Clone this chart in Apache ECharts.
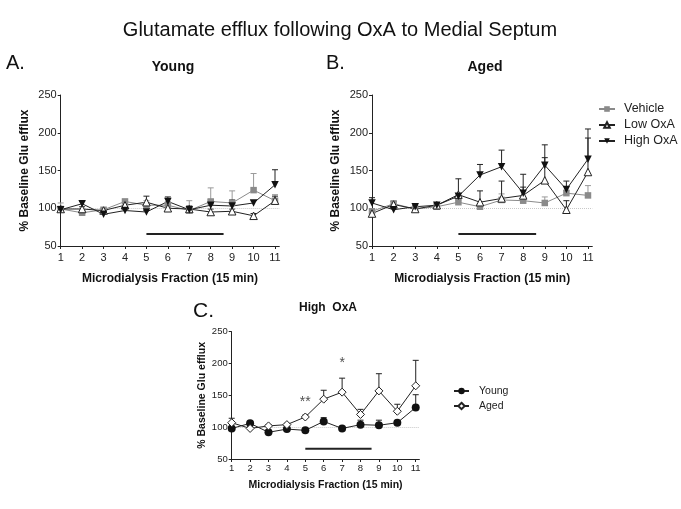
<!DOCTYPE html>
<html><head><meta charset="utf-8">
<script src="https://cdn.jsdelivr.net/npm/echarts@6/dist/echarts.min.js"></script>
<style>html,body{margin:0;padding:0;background:#fff}#c{width:681px;height:509px}</style>
</head><body><div id="c"></div>
<script>
// ---------- data ----------
const fractions = [1, 2, 3, 4, 5, 6, 7, 8, 9, 10, 11];
const yTicks = [50, 100, 150, 200, 250];

// Panel A: Young
const youngVehicleMean = [99, 94, 98, 109, 104, 104, 97, 109, 107, 124, 110];
const youngVehicleSem  = [8, 3, 2, 3, 6, 5, 13, 18, 16, 22, 8];
const youngLowMean     = [99, 99, 97, 104, 108, 100, 99, 95, 96, 90, 110];
const youngLowSem      = [3, 3, 2, 3, 8, 4, 4, 4, 3, 3, 6];
const youngHighMean    = [98, 106, 92, 97, 95, 109, 98, 104, 103, 107, 131];
const youngHighSem     = [3, 3, 2, 2, 2, 6, 3, 7, 8, 3, 20];

// Panel B: Aged
const agedVehicleMean = [96, 106, 99, 102, 108, 102, 111, 110, 107, 120, 117];
const agedVehicleSem  = [3, 4, 2, 3, 3, 3, 8, 5, 8, 4, 13];
const agedLowMean     = [93, 105, 99, 104, 118, 108, 113, 117, 137, 98, 148];
const agedLowSem      = [5, 4, 2, 3, 21, 15, 23, 28, 30, 12, 45];
const agedHighMean    = [107, 98, 102, 104, 116, 144, 155, 120, 157, 125, 165];
const agedHighSem     = [7, 3, 2, 2, 3, 14, 22, 8, 27, 11, 40];

// Treatment period bar (fraction start, end, level)
const treatmentBar = [5, 8.6];
const treatmentLevel = 66;
const baseline = 100;

// Significance marks in panel C
const sigFractions = [5, 7];
const sigLevels = [140, 200];
const sigTexts = ['**', '*'];

// ---------- build ----------
const FONT = 'Liberation Sans, Arial, Helvetica, sans-serif';
const chart = echarts.init(document.getElementById('c'), null, {renderer: 'canvas'});

const grids = [
  {left: 60.7, top: 95, width: 218.6, height: 151},
  {left: 372, top: 95, width: 220.3, height: 151},
  {left: 231.7, top: 331.7, width: 187.7, height: 127.3}
];

function xAxis(i, small) {
  return {
    type: 'value', gridIndex: i, min: 1, max: 11.2,
    name: 'Microdialysis Fraction (15 min)', nameLocation: 'middle',
    nameGap: small ? 21 : 27,
    nameTextStyle: {fontFamily: FONT, fontWeight: 'bold', fontSize: small ? 10.5 : 12, color: '#111'},
    axisLine: {lineStyle: {color: '#222', width: 1}},
    axisTick: {show: true, length: 3, lineStyle: {color: '#222'}, customValues: fractions},
    axisLabel: {customValues: fractions, fontFamily: FONT, fontSize: small ? 9.5 : 11, color: '#222', margin: small ? 4 : 6},
    splitLine: {show: false}
  };
}
function yAxis(i, small) {
  return {
    type: 'value', gridIndex: i, min: 50, max: 250, interval: 50,
    name: '% Baseline Glu efflux', nameLocation: 'middle',
    nameGap: small ? 24 : 30,
    nameTextStyle: {fontFamily: FONT, fontWeight: 'bold', fontSize: small ? 10.5 : 12, color: '#111'},
    axisLine: {show: true, lineStyle: {color: '#222', width: 1}},
    axisTick: {show: true, length: 3, lineStyle: {color: '#222'}},
    axisLabel: {fontFamily: FONT, fontSize: small ? 9.5 : 11, color: '#222', margin: 4},
    splitLine: {show: false}
  };
}

function pairs(means) { return fractions.map((f, k) => [f, means[k]]); }

function lineSeries(name, gi, means, sym, opts) {
  return {
    type: 'line', name: name, xAxisIndex: gi, yAxisIndex: gi,
    data: pairs(means), symbol: sym, symbolSize: opts.size || 7,
    symbolRotate: opts.rotate || 0, symbolKeepAspect: true,
    lineStyle: {color: opts.line, width: 1},
    itemStyle: {color: opts.fill, borderColor: opts.border, borderWidth: opts.bw || 0, opacity: 1},
    z: 5, animation: false, emphasis: {disabled: true}
  };
}

function errSeries(gi, means, sems, color) {
  return {
    type: 'custom', xAxisIndex: gi, yAxisIndex: gi, silent: true, z: 3, animation: false,
    data: fractions.map((f, k) => [f, means[k], sems[k]]),
    encode: {x: 0, y: 1},
    renderItem: function (params, api) {
      const x = api.value(0), m = api.value(1), s = api.value(2);
      const p0 = api.coord([x, m]), p1 = api.coord([x, m + s]);
      return {type: 'group', children: [
        {type: 'line', shape: {x1: p0[0], y1: p0[1], x2: p1[0], y2: p1[1]}, style: {stroke: color, lineWidth: 1}},
        {type: 'line', shape: {x1: p1[0] - 3, y1: p1[1], x2: p1[0] + 3, y2: p1[1]}, style: {stroke: color, lineWidth: 1}}
      ]};
    }
  };
}

function barSeries(gi) {
  return {
    type: 'line', xAxisIndex: gi, yAxisIndex: gi, silent: true, symbol: 'none', animation: false,
    data: [[treatmentBar[0], treatmentLevel], [treatmentBar[1], treatmentLevel]],
    lineStyle: {color: '#222', width: 2}, z: 2,
    markLine: {silent: true, symbol: 'none', label: {show: false}, animation: false,
      lineStyle: {color: '#c8c8c8', type: 'dotted', width: 1},
      data: [{yAxis: baseline}]}
  };
}

const GRAY = '#8a8a8a';
const series = [];
[[0, youngVehicleMean, youngVehicleSem, youngLowMean, youngLowSem, youngHighMean, youngHighSem],
 [1, agedVehicleMean, agedVehicleSem, agedLowMean, agedLowSem, agedHighMean, agedHighSem]].forEach(p => {
  const gi = p[0];
  series.push(barSeries(gi));
  series.push(errSeries(gi, p[1], p[2], '#9a9a9a'));
  series.push(errSeries(gi, p[3], p[4], '#222'));
  series.push(errSeries(gi, p[5], p[6], '#222'));
  series.push(lineSeries('Vehicle', gi, p[1], 'rect', {size: 6.5, line: GRAY, fill: GRAY, border: GRAY}));
  series.push(lineSeries('Low OxA', gi, p[3], 'triangle', {size: 7.5, line: '#222', fill: '#fff', border: '#222', bw: 1}));
  series.push(lineSeries('High OxA', gi, p[5], 'triangle', {size: 7.5, rotate: 180, line: '#222', fill: '#111', border: '#111'}));
});
// Panel C
series.push(barSeries(2));
series.push(errSeries(2, youngHighMean, youngHighSem, '#222'));
series.push(errSeries(2, agedHighMean, agedHighSem, '#222'));
series.push(lineSeries('Young', 2, youngHighMean, 'circle', {size: 8, line: '#222', fill: '#111', border: '#111'}));
series.push(lineSeries('Aged', 2, agedHighMean, 'diamond', {size: 8, line: '#222', fill: '#fff', border: '#222', bw: 1}));
series.push({
  type: 'scatter', xAxisIndex: 2, yAxisIndex: 2, symbolSize: 0, silent: true, animation: false,
  data: sigFractions.map((f, k) => ({value: [f, sigLevels[k]], name: sigTexts[k]})),
  label: {show: true, position: 'inside', formatter: p => p.name, fontFamily: FONT, fontSize: 14, color: '#222'}
});

function txt(x, y, text, font, align) {
  return {type: 'text', x: x, y: y, silent: true,
    style: {text: text, font: font, fill: '#111', align: align || 'center', verticalAlign: 'middle',
            textAlign: align || 'center', textVerticalAlign: 'middle'}};
}

chart.setOption({
  backgroundColor: '#fff',
  animation: false,
  grid: grids,
  xAxis: [xAxis(0), xAxis(1), xAxis(2, true)],
  yAxis: [yAxis(0), yAxis(1), yAxis(2, true)],
  legend: [
    {data: ['Vehicle', 'Low OxA', 'High OxA'], orient: 'vertical', left: 593, top: 97,
     itemWidth: 16, itemHeight: 7, itemGap: 2, selectedMode: false,
     textStyle: {fontFamily: FONT, fontSize: 12.5, color: '#222', padding: [0, 0, 0, 4], lineHeight: 14}},
    {data: ['Young', 'Aged'], orient: 'vertical', left: 448, top: 380,
     itemWidth: 15, itemHeight: 8, itemGap: 3, selectedMode: false,
     textStyle: {fontFamily: FONT, fontSize: 10.5, color: '#222', padding: [0, 0, 0, 5], lineHeight: 12}}
  ],
  graphic: [
    txt(340, 30, 'Glutamate efflux following OxA to Medial Septum', '20px ' + FONT),
    txt(6, 63, 'A.', '20px ' + FONT, 'left'),
    txt(326, 63, 'B.', '20px ' + FONT, 'left'),
    txt(193, 311, 'C.', '21px ' + FONT, 'left'),
    txt(173, 67, 'Young', 'bold 14px ' + FONT),
    txt(485, 67, 'Aged', 'bold 14px ' + FONT),
    txt(328, 308, 'High  OxA', 'bold 12px ' + FONT)
  ],
  series: series
});
</script></body></html>
